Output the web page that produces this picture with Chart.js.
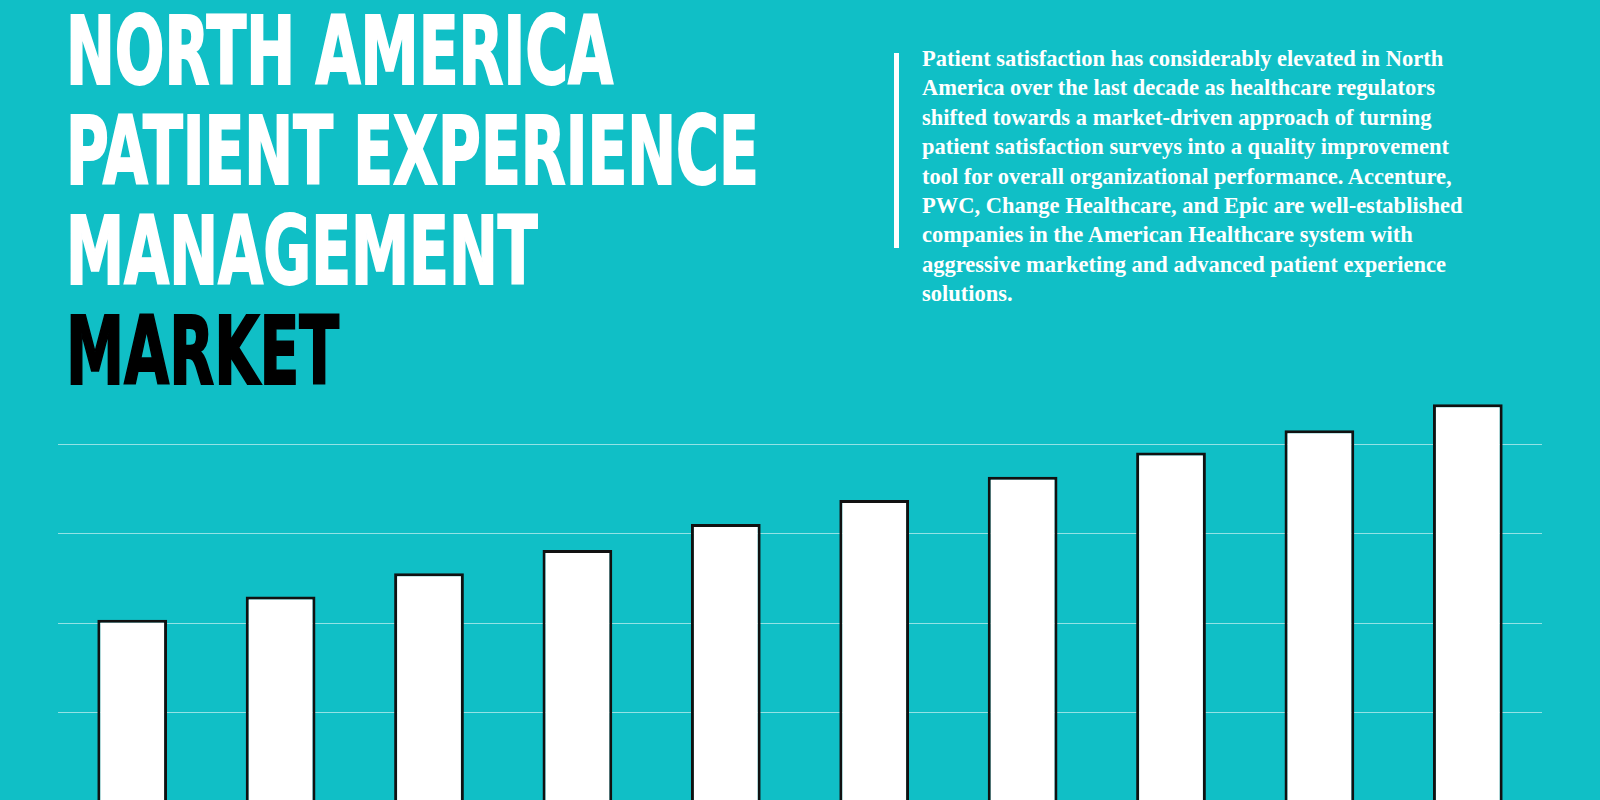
<!DOCTYPE html>
<html>
<head>
<meta charset="utf-8">
<script src="https://cdn.jsdelivr.net/npm/chart.js@4"></script>
<style>
  html, body { margin: 0; padding: 0; }
  body { width: 1600px; height: 800px; overflow: hidden; background: #10bfc6; position: relative; }
  #title { position: absolute; left: 66px; top: 2px; font-family: "DejaVu Sans Condensed", "DejaVu Sans", sans-serif;
    font-weight: bold; font-size: 94px; line-height: 100px; color: #fff; -webkit-text-stroke: 2px currentColor; }
  #title div { transform: scaleX(0.69); transform-origin: left center; white-space: nowrap; }
  #title .dark { color: #000; }
  #rule { position: absolute; left: 894px; top: 53px; width: 5px; height: 195px; background: #fff; }
  #text { position: absolute; left: 922px; top: 44px; width: 660px; font-family: "Liberation Serif", serif;
    font-weight: bold; font-size: 22.5px; line-height: 29.4px; color: #fff; white-space: nowrap; }
  #wrap { position: absolute; left: 0; top: 340px; width: 1600px; height: 462px; }
</style>
</head>
<body>
<div id="title"><div>NORTH AMERICA</div><div>PATIENT EXPERIENCE</div><div>MANAGEMENT</div><div class="dark">MARKET</div></div>
<div id="rule"></div>
<div id="text">Patient satisfaction has considerably elevated in North<br>America over the last decade as healthcare regulators<br>shifted towards a market-driven approach of turning<br>patient satisfaction surveys into a quality improvement<br>tool for overall organizational performance. Accenture,<br>PWC, Change Healthcare, and Epic are well-established<br>companies in the American Healthcare system with<br>aggressive marketing and advanced patient experience<br>solutions.</div>
<div id="wrap"><canvas id="chart"></canvas></div>
<script>
const years = ["2019", "2020", "2021", "2022", "2023", "2024", "2025", "2026", "2027", "2028"];
const values = [2.04, 2.30, 2.56, 2.82, 3.11, 3.38, 3.64, 3.91, 4.16, 4.45];

new Chart(document.getElementById("chart"), {
  type: "bar",
  data: {
    labels: years,
    datasets: [{
      data: values,
      backgroundColor: "#ffffff",
      borderColor: "#111111",
      borderWidth: 3,
      borderSkipped: "bottom",
      categoryPercentage: 1,
      barPercentage: 0.47
    }]
  },
  options: {
    responsive: true,
    maintainAspectRatio: false,
    animation: false,
    layout: { padding: { left: 58, right: 58, top: 0, bottom: 0 } },
    scales: {
      x: { display: false, grid: { display: false } },
      y: {
        min: 0, max: 5.17,
        ticks: { display: false, stepSize: 1 },
        border: { display: false },
        grid: {
          color: (ctx) => (ctx.tick && ctx.tick.value >= 1 && ctx.tick.value <= 4) ? "rgba(255,255,255,0.55)" : "rgba(0,0,0,0)",
          lineWidth: 1,
          drawTicks: false
        }
      }
    },
    plugins: { legend: { display: false }, tooltip: { enabled: false } }
  }
});
</script>
</body>
</html>
